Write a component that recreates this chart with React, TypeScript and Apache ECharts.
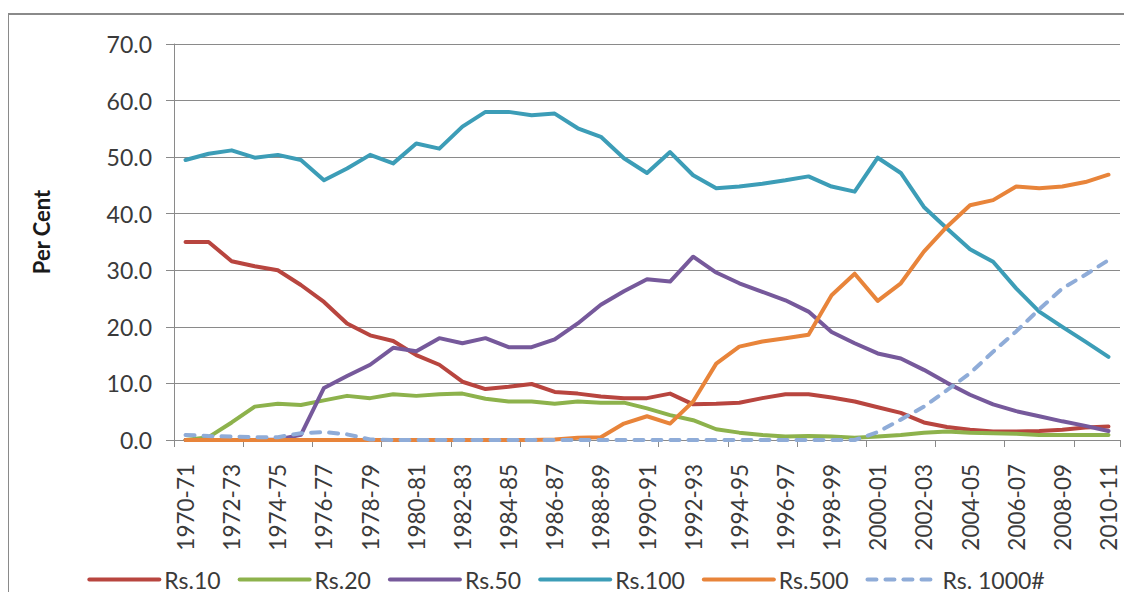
import React, { useEffect, useRef } from "react";
import * as echarts from "echarts";

const categories = [
  "1970-71", "1971-72", "1972-73", "1973-74", "1974-75", "1975-76", "1976-77", "1977-78",
  "1978-79", "1979-80", "1980-81", "1981-82", "1982-83", "1983-84", "1984-85", "1985-86",
  "1986-87", "1987-88", "1988-89", "1989-90", "1990-91", "1991-92", "1992-93", "1993-94",
  "1994-95", "1995-96", "1996-97", "1997-98", "1998-99", "1999-00", "2000-01", "2001-02",
  "2002-03", "2003-04", "2004-05", "2005-06", "2006-07", "2007-08", "2008-09", "2009-10",
  "2010-11",
];

const rs10 = [
  35.0, 35.0, 31.6, 30.7, 30.0, 27.4, 24.4, 20.6, 18.5, 17.5,
  15.0, 13.3, 10.3, 9.0, 9.4, 9.9, 8.5, 8.2, 7.7, 7.4,
  7.4, 8.2, 6.3, 6.4, 6.6, 7.4, 8.1, 8.1, 7.5, 6.8,
  5.8, 4.8, 3.1, 2.3, 1.8, 1.5, 1.5, 1.6, 1.8, 2.2,
  2.4,
];
const rs20 = [
  0.0, 0.5, 3.1, 5.9, 6.4, 6.2, 7.0, 7.8, 7.4, 8.1,
  7.8, 8.1, 8.2, 7.3, 6.8, 6.8, 6.4, 6.8, 6.6, 6.6,
  5.6, 4.4, 3.5, 1.9, 1.3, 0.9, 0.6, 0.7, 0.6, 0.4,
  0.6, 0.9, 1.3, 1.5, 1.3, 1.2, 1.1, 0.9, 0.9, 0.9,
  0.9,
];
const rs50 = [
  0.0, 0.0, 0.0, 0.0, 0.1, 0.9, 9.2, 11.3, 13.3, 16.3,
  15.7, 18.0, 17.1, 18.0, 16.4, 16.4, 17.8, 20.6, 23.9, 26.3,
  28.4, 28.0, 32.4, 29.6, 27.7, 26.2, 24.7, 22.7, 19.1, 17.1,
  15.3, 14.4, 12.4, 10.1, 8.0, 6.3, 5.1, 4.2, 3.3, 2.5,
  1.6,
];
const rs100 = [
  49.5, 50.6, 51.2, 49.9, 50.4, 49.5, 45.9, 48.0, 50.4, 48.9,
  52.4, 51.5, 55.4, 58.0, 58.0, 57.4, 57.7, 55.1, 53.6, 49.8,
  47.2, 50.9, 46.8, 44.5, 44.8, 45.3, 45.9, 46.6, 44.8, 43.9,
  49.9, 47.2, 41.2, 37.4, 33.7, 31.5, 26.8, 22.7, 20.0, 17.4,
  14.7,
];
const rs500 = [
  0.0, 0.0, 0.0, 0.0, 0.0, 0.0, 0.0, 0.0, 0.0, 0.0,
  0.0, 0.0, 0.0, 0.0, 0.0, 0.0, 0.1, 0.4, 0.5, 2.9,
  4.2, 2.9, 6.8, 13.5, 16.5, 17.4, 18.0, 18.6, 25.6, 29.4,
  24.6, 27.7, 33.3, 37.7, 41.5, 42.4, 44.8, 44.5, 44.8, 45.6,
  46.9,
];
const rs1000 = [
  0.9, 0.7, 0.6, 0.5, 0.5, 1.2, 1.4, 1.0, 0.1, 0.0,
  0.0, 0.0, 0.0, 0.0, 0.0, 0.0, 0.0, 0.0, 0.0, 0.0,
  0.0, 0.0, 0.0, 0.0, 0.0, 0.0, 0.0, 0.0, 0.0, 0.0,
  1.4, 3.6, 5.9, 8.8, 11.8, 15.6, 19.2, 23.1, 26.8, 29.2,
  31.8,
];

const seriesNames = ["Rs.10", "Rs.20", "Rs.50", "Rs.100", "Rs.500", "Rs. 1000#"];
const seriesColors = ["#B8453F", "#8DB24C", "#76599B", "#3C9DB7", "#E8843A", "#8FACD8"];

const FONT = "Lato, 'DejaVu Sans', sans-serif";
const TEXT = "#3a3a3a";
const GRID = "#8a8a8a";

export default function App() {
  const ref = useRef<HTMLDivElement>(null);

  useEffect(() => {
    if (!ref.current) return;
    const chart = echarts.init(ref.current, null, { renderer: "svg" });
    const dataSets = [rs10, rs20, rs50, rs100, rs500, rs1000];
    chart.setOption({
      animation: false,
      backgroundColor: "#ffffff",
      textStyle: { fontFamily: FONT },
      graphic: [
        {
          type: "rect",
          shape: { x: 8, y: 14, width: 1200, height: 700 },
          style: { fill: "none", stroke: GRID, lineWidth: 2 },
          silent: true,
        },
        {
          type: "text",
          x: 41,
          y: 232,
          rotation: Math.PI / 2,
          style: {
            text: "Per Cent",
            fontFamily: FONT,
            fontSize: 22,
            fontWeight: "bold",
            fill: "#1a1a1a",
            align: "center",
            verticalAlign: "middle",
          },
        },
      ],
      grid: { left: 174, right: 12, top: 44, bottom: 160, containLabel: false },
      legend: {
        data: seriesNames,
        left: "center",
        top: 568,
        padding: 0,
        itemWidth: 70,
        itemHeight: 2,
        itemGap: 17,
        lineStyle: { width: 4, cap: "round" },
        textStyle: { fontFamily: FONT, fontSize: 23, color: TEXT, lineHeight: 23 },
      },
      xAxis: {
        type: "category",
        data: categories,
        boundaryGap: true,
        axisLine: { show: true, lineStyle: { color: GRID, width: 1 } },
        axisTick: { show: true, interval: 2, length: 7, lineStyle: { color: GRID } },
        axisLabel: {
          interval: 1,
          rotate: 90,
          margin: 24,
          fontFamily: FONT,
          fontSize: 22.5,
          color: TEXT,
        },
        splitLine: { show: false },
      },
      yAxis: {
        type: "value",
        min: 0,
        max: 70,
        interval: 10,
        axisLine: { show: true, lineStyle: { color: GRID, width: 1 } },
        axisTick: { show: true, length: 8, lineStyle: { color: GRID } },
        axisLabel: {
          margin: 22,
          fontFamily: FONT,
          fontSize: 23,
          color: TEXT,
          formatter: (v: number) => v.toFixed(1),
        },
        splitLine: { show: true, lineStyle: { color: GRID, width: 1 } },
      },
      series: seriesNames.map((name, i) => ({
        name,
        type: "line",
        data: dataSets[i],
        showSymbol: false,
        symbol: "none",
        color: seriesColors[i],
        lineStyle: {
          color: seriesColors[i],
          width: 4,
          cap: "round",
          join: "round",
          type: i === 5 ? [9, 9] : "solid",
        },
      })),
    });
    return () => chart.dispose();
  }, []);

  return <div ref={ref} style={{ width: 1132, height: 600, margin: -8 }} />;
}
